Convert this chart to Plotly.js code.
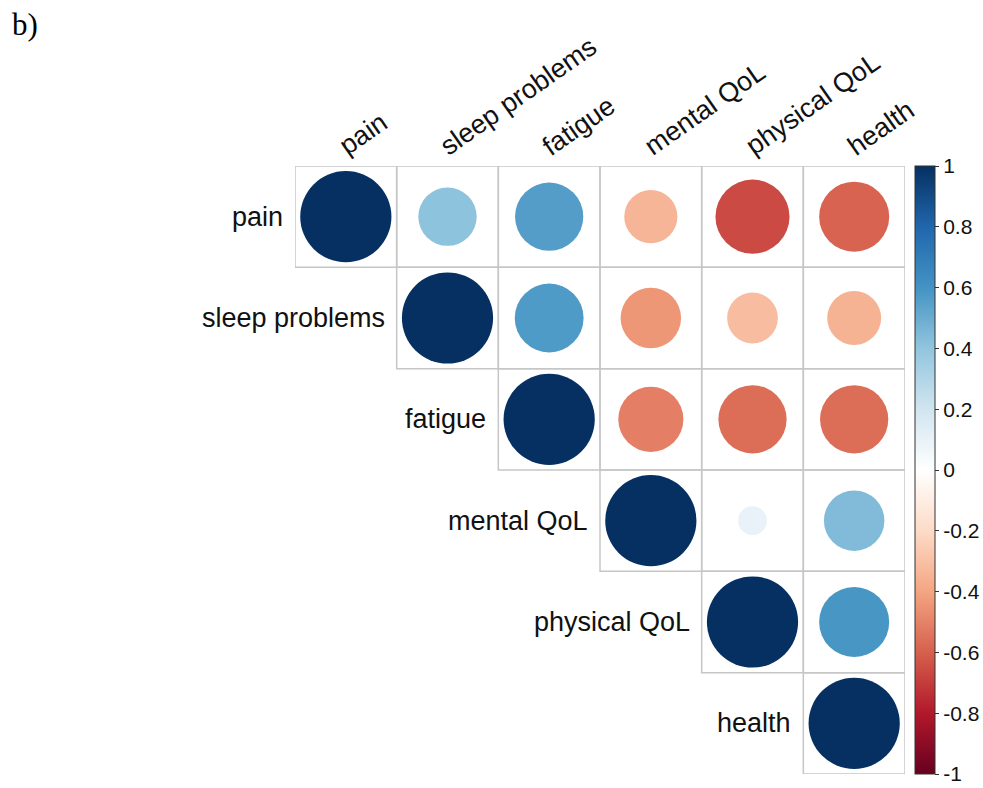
<!DOCTYPE html>
<html>
<head>
<meta charset="utf-8">
<script src="https://cdn.plot.ly/plotly-3.0.1.min.js"></script>
<style>html,body{margin:0;padding:0;background:#fff;}</style>
</head>
<body>
<div id="chart" style="width:983px;height:788px;"></div>
<script>
// ---- data (upper triangle of correlation matrix) ----
const variables = ['pain', 'sleep problems', 'fatigue', 'mental QoL', 'physical QoL', 'health'];
const painRow     = [1, 0.41, 0.56, -0.34, -0.66, -0.59];
const sleepRow    = [null, 1, 0.57, -0.44, -0.31, -0.35];
const fatigueRow  = [null, null, 1, -0.51, -0.56, -0.56];
const mentalRow   = [null, null, null, 1, 0.10, 0.44];
const physicalRow = [null, null, null, null, 1, 0.59];
const healthRow   = [null, null, null, null, null, 1];
const colorbarTicks = [-1, -0.8, -0.6, -0.4, -0.2, 0, 0.2, 0.4, 0.6, 0.8, 1];
const colorbarTickLabels = ['-1', '-0.8', '-0.6', '-0.4', '-0.2', '0', '0.2', '0.4', '0.6', '0.8', '1'];

const rows = [painRow, sleepRow, fatigueRow, mentalRow, physicalRow, healthRow];

// ---- layout geometry ----
const W = 983, H = 788;
const mL = 295, mR = 78, mT = 166, mB = 14;
const n = variables.length;
const cellPx = Math.min((W - mL - mR) / n, (H - mT - mB) / n);

const rdbu = [
  [0.0, '#67001F'], [0.1, '#B2182B'], [0.2, '#D6604D'], [0.3, '#F4A582'],
  [0.4, '#FDDBC7'], [0.5, '#FFFFFF'], [0.6, '#D1E5F0'], [0.7, '#92C5DE'],
  [0.8, '#4393C3'], [0.9, '#2166AC'], [1.0, '#053061']
];

const xs = [], ys = [], cs = [], ss = [];
const shapes = [];
rows.forEach((row, i) => {
  row.forEach((v, j) => {
    if (v === null) return;
    xs.push(j); ys.push(i); cs.push(v);
    ss.push(0.9 * Math.sqrt(Math.abs(v)) * cellPx);
    shapes.push({
      type: 'rect', xref: 'x', yref: 'y',
      x0: j - 0.5, x1: j + 0.5, y0: i - 0.5, y1: i + 0.5,
      line: {color: '#c6c6c6', width: 1.5}, fillcolor: 'rgba(0,0,0,0)', layer: 'below'
    });
  });
});

const annotations = [];
const labelFont = {family: 'Liberation Sans, Arial, sans-serif', size: 27, color: '#111'};
variables.forEach((name, i) => {
  annotations.push({
    x: i - 0.5, y: i, xref: 'x', yref: 'y', text: name, showarrow: false,
    xanchor: 'right', yanchor: 'middle', xshift: -10, font: labelFont
  });
  annotations.push({
    x: i, y: -0.5, xref: 'x', yref: 'y', text: name, showarrow: false,
    xanchor: 'left', yanchor: 'bottom', textangle: -35, xshift: -15, yshift: 2,
    font: labelFont
  });
});

const trace = {
  type: 'scatter', mode: 'markers',
  x: xs, y: ys,
  marker: {
    symbol: 'circle', size: ss, sizemode: 'diameter', opacity: 1,
    color: cs, cmin: -1, cmax: 1, colorscale: rdbu,
    line: {width: 0},
    colorbar: {
      x: (915 - mL) / (W - mL - mR), xanchor: 'left', xpad: 0, ypad: 0,
      y: 0.5, yanchor: 'middle', len: 1, lenmode: 'fraction',
      thickness: 20, thicknessmode: 'pixels',
      outlinewidth: 1, outlinecolor: '#333',
      ticks: 'outside', ticklen: 4, tickcolor: '#333',
      tickvals: colorbarTicks, ticktext: colorbarTickLabels,
      tickfont: {family: 'Liberation Sans, Arial, sans-serif', size: 21, color: '#111'}
    }
  },
  hoverinfo: 'none'
};

const layout = {
  width: W, height: H,
  margin: {l: mL, r: mR, t: mT, b: mB, autoexpand: false},
  paper_bgcolor: '#fff', plot_bgcolor: '#fff',
  showlegend: false,
  title: {
    text: 'b)', xref: 'container', yref: 'container',
    x: 12 / W, xanchor: 'left', y: 1 - 13 / H, yanchor: 'top',
    font: {family: 'Liberation Serif, Times New Roman, serif', size: 31, color: '#000'}
  },
  xaxis: {range: [-0.5, n - 0.5], visible: false, fixedrange: true},
  yaxis: {range: [n - 0.5, -0.5], visible: false, fixedrange: true},
  shapes: shapes,
  annotations: annotations
};

Plotly.newPlot('chart', [trace], layout, {displayModeBar: false, staticPlot: true});
</script>
</body>
</html>
